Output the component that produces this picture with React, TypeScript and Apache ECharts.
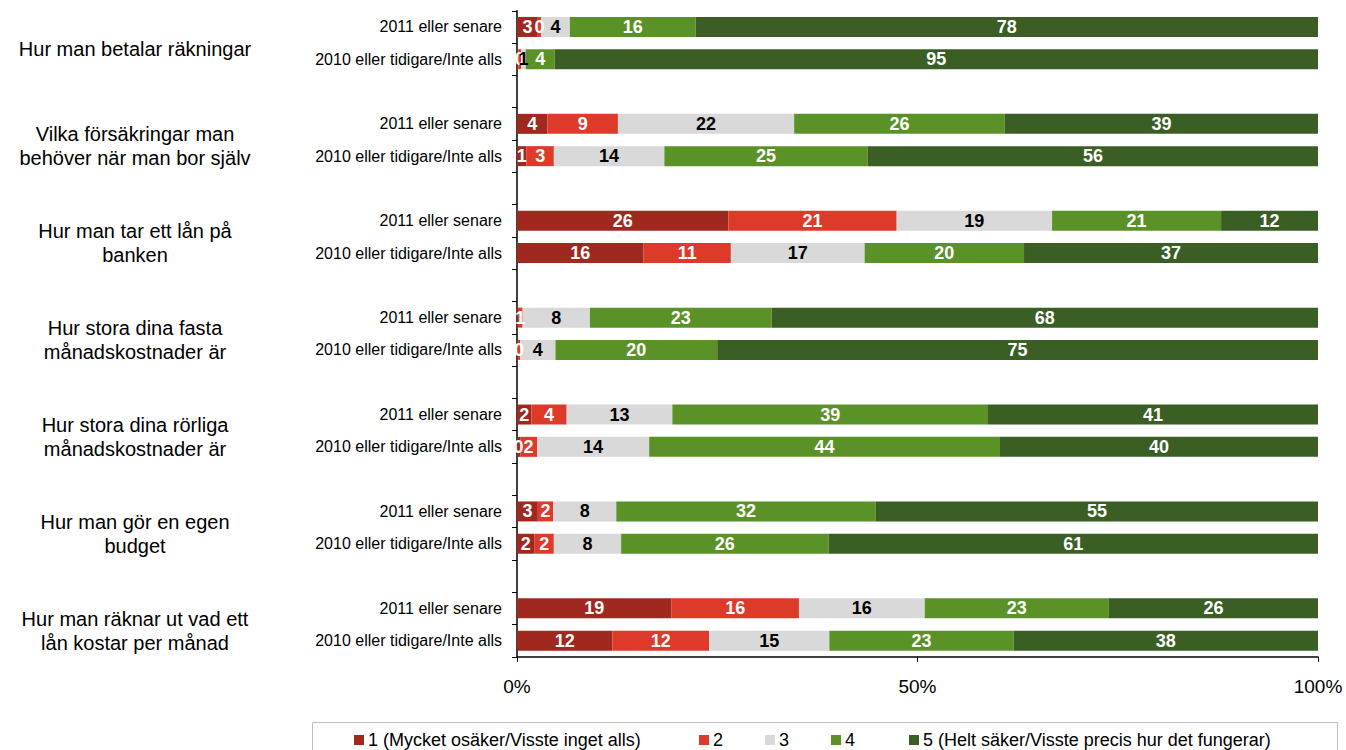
import React, { useEffect, useRef } from "react";
import * as echarts from "echarts";

const groupLabels = [
  "Hur man betalar räkningar",
  "Vilka försäkringar man\nbehöver när man bor själv",
  "Hur man tar ett lån på\nbanken",
  "Hur stora dina fasta\nmånadskostnader är",
  "Hur stora dina rörliga\nmånadskostnader är",
  "Hur man gör en egen\nbudget",
  "Hur man räknar ut vad ett\nlån kostar per månad",
];
const rowLabels = ["2011 eller senare", "2010 eller tidigare/Inte alls"];

const seriesNames = [
  "1 (Mycket osäker/Visste inget alls)",
  "2",
  "3",
  "4",
  "5 (Helt säker/Visste precis hur det fungerar)",
];

// rows in order: group1-2011, group1-2010, group2-2011, ...
const s1 = [2.6, 0.2, 3.8, 1.2, 26.4, 15.8, 0.1, 0.1, 1.8, 0.4, 2.6, 2.2, 19.3, 11.9];
const s2 = [0.4, 0.3, 8.8, 3.4, 21.0, 10.9, 0.6, 0.3, 4.4, 2.1, 1.9, 2.4, 15.9, 12.1];
const s3 = [3.6, 0.6, 22.0, 13.8, 19.4, 16.7, 8.4, 4.4, 13.2, 14.0, 7.9, 8.4, 15.7, 15.0];
const s4 = [15.7, 3.6, 26.3, 25.4, 21.1, 19.9, 22.7, 20.2, 39.4, 43.8, 32.4, 25.9, 23.0, 23.0];
const s5 = [77.7, 95.3, 39.1, 56.2, 12.1, 36.7, 68.2, 75.0, 41.2, 39.7, 55.2, 61.1, 26.1, 38.0];

const xTicks = [0, 50, 100];

const colors = ["#A0281E", "#DE3A2A", "#D9D9D9", "#5B9227", "#3B5E24"];
const labelColors = ["#fff", "#fff", "#000", "#fff", "#fff"];
const legendLefts = [354, 699, 765, 831, 909];

export default function App() {
  const ref = useRef<HTMLDivElement>(null);
  useEffect(() => {
    document.body.style.margin = "0";
    const chart = echarts.init(ref.current!, null, { renderer: "svg" });

    const categories: string[] = [];
    const rowIndex: (number | null)[] = [];
    groupLabels.forEach((_, g) => {
      rowLabels.forEach((r, k) => {
        categories.push(r);
        rowIndex.push(g * 2 + k);
      });
      if (g < groupLabels.length - 1) {
        categories.push("");
        rowIndex.push(null);
      }
    });
    const all = [s1, s2, s3, s4, s5];

    const gridTop = 10.8;
    const gridHeight = 646;
    const slot = gridHeight / categories.length;
    const font = "'Liberation Sans', Arial, sans-serif";

    const series = all.map((arr, i) => ({
      name: seriesNames[i],
      type: "bar",
      stack: "total",
      barWidth: 20,
      itemStyle: { color: colors[i] },
      label: {
        show: true,
        position: "inside",
        color: labelColors[i],
        fontSize: 18,
        fontWeight: "bold",
        fontFamily: font,
        formatter: (p: any) => (p.value < 0.25 ? "" : String(Math.round(p.value))),
      },
      data: rowIndex.map((ri) => (ri === null ? "-" : arr[ri])),
    }));

    const graphics: any[] = groupLabels.map((t, g) => ({
      type: "text",
      x: 135,
      y: gridTop + (3 * g + 1) * slot + 6,
      style: {
        text: t,
        fontSize: 20,
        fontFamily: font,
        fill: "#000",
        align: "center",
        verticalAlign: "middle",
        lineHeight: 24,
      },
    }));
    graphics.push({
      type: "rect",
      shape: { x: 312.5, y: 722.5, width: 1025, height: 60 },
      style: { fill: "none", stroke: "#BFBFBF", lineWidth: 1 },
    });

    const legends = seriesNames.map((n, i) => ({
      left: legendLefts[i],
      top: 731,
      icon: "rect",
      itemWidth: 10,
      itemHeight: 10,
      itemGap: 4,
      padding: 0,
      textStyle: { fontSize: 18, fontFamily: font, color: "#000", padding: [0, 0, 0, -1] },
      data: [n],
    }));

    chart.setOption({
      animation: false,
      grid: { left: 517, right: 28, top: gridTop, height: gridHeight },
      legend: legends,
      xAxis: {
        type: "value",
        min: 0,
        max: 100,
        interval: 50,
        splitLine: { show: false },
        axisLine: { show: true, lineStyle: { color: "#000", width: 1.5 } },
        axisTick: { show: true, length: 5, lineStyle: { color: "#000" } },
        axisLabel: {
          formatter: (v: number) => (xTicks.includes(v) ? v + "%" : ""),
          fontSize: 19,
          fontFamily: font,
          color: "#000",
          margin: 20,
        },
      },
      yAxis: {
        type: "category",
        inverse: true,
        data: categories,
        axisLine: { show: true, lineStyle: { color: "#000", width: 1.5 } },
        axisTick: { show: true, length: 5, interval: 0, lineStyle: { color: "#000" } },
        axisLabel: {
          interval: 0,
          fontSize: 16,
          fontFamily: font,
          color: "#000",
          margin: 15,
        },
      },
      graphic: graphics,
      series,
    });
    return () => chart.dispose();
  }, []);
  return <div ref={ref} style={{ width: 1346, height: 750 }} />;
}
